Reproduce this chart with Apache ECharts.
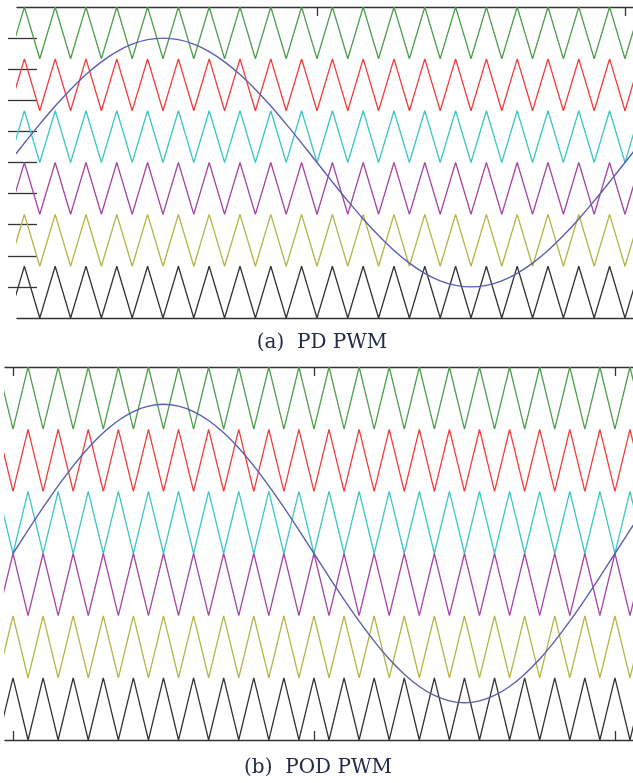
<!DOCTYPE html>
<html>
<head>
<meta charset="utf-8">
<script src="https://cdn.jsdelivr.net/npm/echarts@6/dist/echarts.min.js"></script>
<style>
html,body{margin:0;padding:0;background:#fff;}
#chart{width:633px;height:783px;}
</style>
</head>
<body>
<div id="chart"></div>
<script>
// ---- data (time in ms, fundamental period 20 ms) ----
const panelTitles = ['(a)  PD PWM', '(b)  POD PWM'];
const carrierNames = ['green', 'red', 'cyan', 'purple', 'olive', 'black'];
const carrierColors = ['#4f9e4f', '#f23c3c', '#3ec6c6', '#a545a5', '#b4b446', '#333333'];
const bandLows = [0.667, 0.333, 0, -0.333, -0.667, -1];
const bandHeight = 0.333;
// vertices of the triangular carriers (peaks / valleys every 0.5 ms)
const carrierTimes = [-0.5,0,0.5,1,1.5,2,2.5,3,3.5,4,4.5,5,5.5,6,6.5,7,7.5,8,8.5,9,9.5,10,10.5,11,11.5,12,12.5,13,13.5,14,14.5,15,15.5,16,16.5,17,17.5,18,18.5,19,19.5,20,20.5,21];
// true: carrier has a valley at whole ms; false: a peak
const pdValleyAtWhole = [true, true, true, true, true, true];
const podValleyAtWhole = [true, true, true, false, false, false];
// reference (modulating) wave, read every 0.5 ms
const refTimes = [0,0.5,1,1.5,2,2.5,3,3.5,4,4.5,5,5.5,6,6.5,7,7.5,8,8.5,9,9.5,10,10.5,11,11.5,12,12.5,13,13.5,14,14.5,15,15.5,16,16.5,17,17.5,18,18.5,19,19.5,20,20.5,21];
const refValues = [0,0.125,0.247,0.363,0.470,0.566,0.647,0.713,0.761,0.790,0.800,0.790,0.761,0.713,0.647,0.566,0.470,0.363,0.247,0.125,0,-0.125,-0.247,-0.363,-0.470,-0.566,-0.647,-0.713,-0.761,-0.790,-0.800,-0.790,-0.761,-0.713,-0.647,-0.566,-0.470,-0.363,-0.247,-0.125,0,0.125,0.247];
const yTickValues = [-0.8,-0.6,-0.4,-0.2,0,0.2,0.4,0.6,0.8];
const xTickValuesA = [10, 20];
const xTickValuesB = [0, 10, 20];

const chart = echarts.init(document.getElementById('chart'), null, {renderer: 'canvas'});

function carrierData(low, valleyAtWhole) {
  return carrierTimes.map(t => [t, low + ((Number.isInteger(t) === valleyAtWhole) ? 0 : bandHeight)]);
}
const refData = refTimes.map((t, i) => [t, refValues[i]]);

const axisLineStyle = {color: '#333', width: 1.3};
function xAx(grid, pos, min, max, ticks) {
  return {
    type: 'value', gridIndex: grid, position: pos, min: min, max: max,
    axisLine: {show: true, onZero: false, lineStyle: axisLineStyle},
    axisTick: ticks ? {show: true, inside: true, length: 9, customValues: ticks, lineStyle: axisLineStyle} : {show: false},
    axisLabel: {show: false}, splitLine: {show: false}
  };
}

const series = [];
[pdValleyAtWhole, podValleyAtWhole].forEach((pattern, g) => {
  bandLows.forEach((low, k) => {
    series.push({
      type: 'line', name: carrierNames[k] + g, xAxisIndex: g * 2, yAxisIndex: g,
      data: carrierData(low, pattern[k]), showSymbol: false, symbol: 'none',
      lineStyle: {color: carrierColors[k], width: 1.3}, z: 2
    });
  });
  series.push({
    type: 'line', name: 'ref' + g, xAxisIndex: g * 2, yAxisIndex: g,
    data: refData, smooth: 0.3, showSymbol: false, symbol: 'none',
    lineStyle: {color: '#5a5fb0', width: 1.4}, z: 3
  });
});

chart.setOption({
  animation: false,
  backgroundColor: '#fff',
  grid: [
    {left: 17, top: 7, width: 616, height: 311},
    {left: 5, top: 367, width: 628, height: 373}
  ],
  xAxis: [
    xAx(0, 'bottom', 0.26, 20.26, null),
    xAx(0, 'top', 0.26, 20.26, xTickValuesA),
    xAx(1, 'bottom', -0.266, 20.6, xTickValuesB),
    xAx(1, 'top', -0.266, 20.6, xTickValuesB)
  ],
  yAxis: [
    {type: 'value', gridIndex: 0, min: -1, max: 1, offset: -20,
     axisLine: {show: false},
     axisTick: {show: true, inside: false, length: 29, customValues: yTickValues, lineStyle: axisLineStyle},
     axisLabel: {show: false}, splitLine: {show: false}},
    {type: 'value', gridIndex: 1, min: -1, max: 1,
     axisLine: {show: false}, axisTick: {show: false}, axisLabel: {show: false}, splitLine: {show: false}}
  ],
  series: series,
  graphic: [
    {type: 'text', x: 322, y: 343, style: {text: panelTitles[0], font: '20px "DejaVu Serif"', fill: '#222a4a', align: 'center', verticalAlign: 'middle'}},
    {type: 'text', x: 318, y: 768, style: {text: panelTitles[1], font: '20px "DejaVu Serif"', fill: '#222a4a', align: 'center', verticalAlign: 'middle'}}
  ]
});
</script>
</body>
</html>
